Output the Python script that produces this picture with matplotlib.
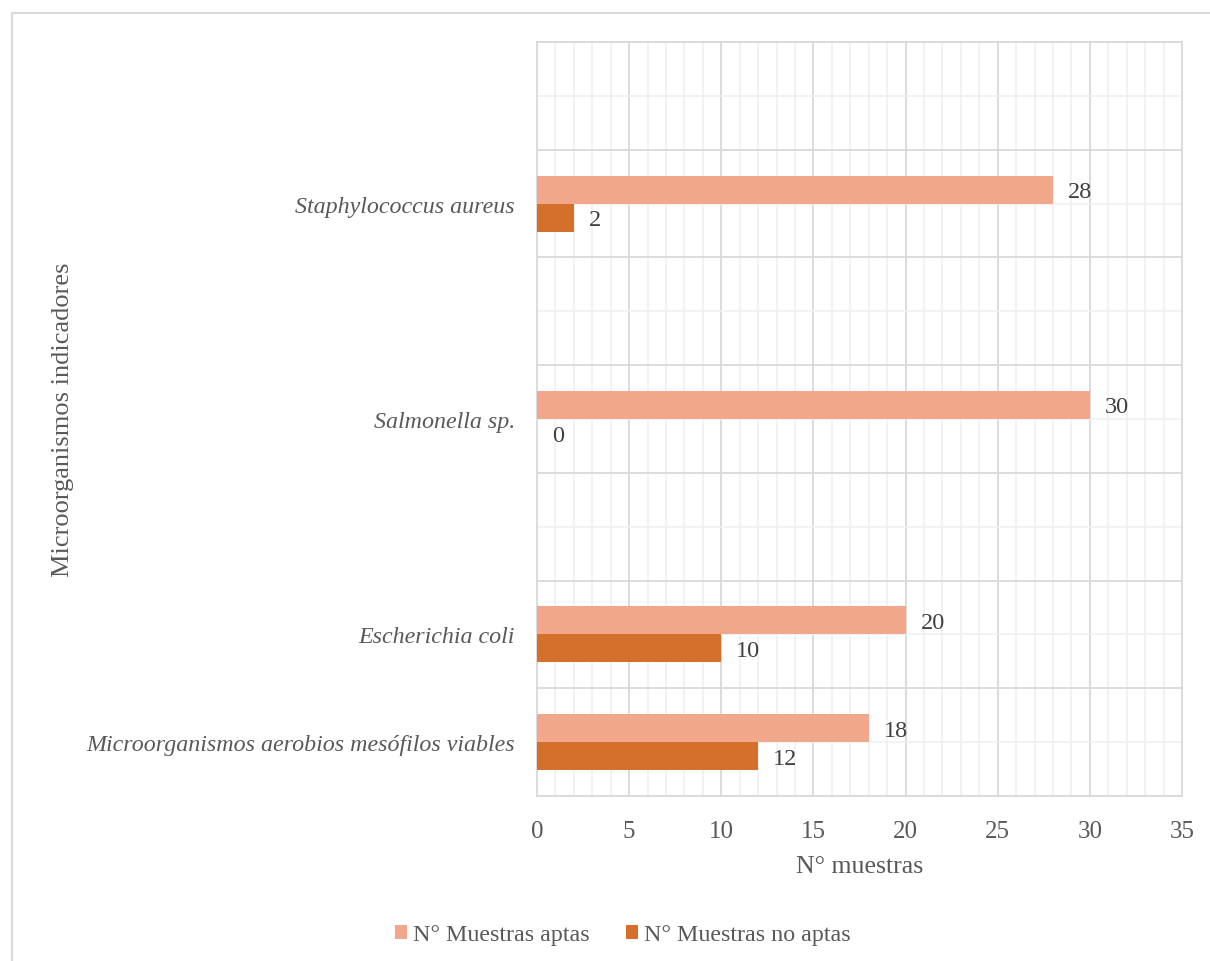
import numpy as np
import matplotlib
matplotlib.use("Agg")
import matplotlib.pyplot as plt
from matplotlib.patches import Rectangle
from matplotlib.ticker import MultipleLocator

categories = ["Microorganismos aerobios mesófilos viables", "Escherichia coli", "",
              "Salmonella sp.", "", "Staphylococcus aureus", ""]
aptas = [18, 20, np.nan, 30, np.nan, 28, np.nan]
no_aptas = [12, 10, np.nan, 0, np.nan, 2, np.nan]
series_names = ["N° Muestras aptas", "N° Muestras no aptas"]
xlabel = "N° muestras"
ylabel = "Microorganismos indicadores"

c_apta = "#F1A78A"
c_noapta = "#D4702B"
txt = "#595959"

plt.rcParams['font.family'] = ['Liberation Serif', 'DejaVu Serif']

W, H = 1210, 962
fig = plt.figure(figsize=(W / 100, H / 100), dpi=100)
ax = fig.add_axes([537 / W, 1 - 797 / H, (1182 - 537) / W, (797 - 43) / H])

# outer chart border
fig.patches.append(Rectangle((12 / W, -0.1), 1.2, 1 - 14 / H + 0.1, transform=fig.transFigure,
                             fill=False, edgecolor="#d9d9d9", linewidth=1.5))

y = np.arange(len(categories))
h = 0.26
b1 = ax.barh(y + h / 2, aptas, height=h, color=c_apta, label=series_names[0], zorder=3)
b2 = ax.barh(y - h / 2, no_aptas, height=h, color=c_noapta, label=series_names[1], zorder=3)

for bars, vals in ((b1, aptas), (b2, no_aptas)):
    for rect, v in zip(bars, vals):
        if np.isnan(v):
            continue
        ax.annotate(f"{int(v)}", (v, rect.get_y() + rect.get_height() / 2),
                    xytext=(15, -2), textcoords="offset pixels", ha="left", va="center",
                    fontsize=17.5, color="#404040")

ax.set_xlim(0, 35)
ax.set_ylim(-0.5, len(categories) - 0.5)
ax.xaxis.set_major_locator(MultipleLocator(5))
ax.xaxis.set_minor_locator(MultipleLocator(1))
ax.set_yticks(y)
ax.set_yticklabels(categories, fontstyle="italic", fontsize=17.3, color=txt)
ax.set_yticks(np.arange(-0.5, len(categories), 1.0), minor=True)
ax.tick_params(axis="x", labelsize=18, labelcolor=txt, length=0, which="both", pad=17)
ax.tick_params(axis="y", length=0, which="both", pad=16)

ax.grid(False)
for xv in np.arange(1, 35):
    col = "#d9d9d9" if xv % 5 == 0 else "#f0f0f0"
    ax.axvline(xv, color=col, linewidth=1.3 if xv % 5 == 0 else 1.2, zorder=1)
for yv in y:
    ax.axhline(yv, color="#f0f0f0", linewidth=1.2, zorder=1)
for yv in np.arange(-0.5, len(categories), 1.0):
    ax.axhline(yv, color="#d9d9d9", linewidth=1.3, zorder=1)

for s in ax.spines.values():
    s.set_color("#d9d9d9")
    s.set_linewidth(1.3)

ax.set_xlabel(xlabel, fontsize=18.6, color=txt, labelpad=10)
fig.text(63 / W, 1 - 420 / H, ylabel, rotation=90, ha="center", va="center",
         fontsize=19, color=txt)

leg = fig.legend(handles=[b1, b2], labels=series_names, loc="center",
                 bbox_to_anchor=(623 / W, 1 - 936 / H), ncol=2, frameon=False,
                 fontsize=17.3, handlelength=0.5, handleheight=0.5, handletextpad=0.25,
                 columnspacing=1.5, labelcolor=txt)

fig.savefig("out.png", dpi=100)
